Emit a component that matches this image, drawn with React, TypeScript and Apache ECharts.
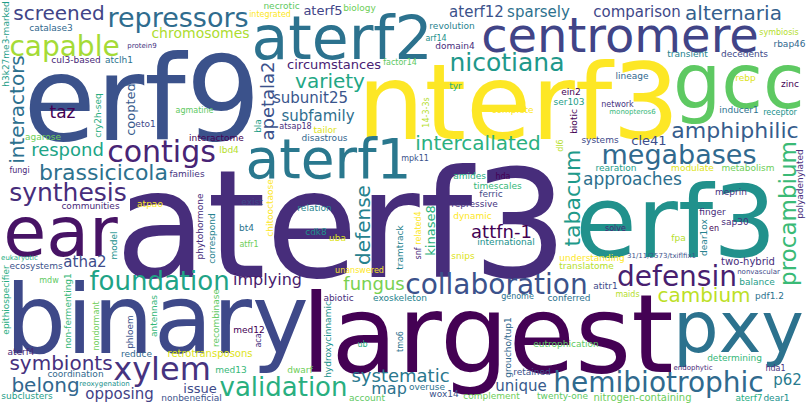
import * as echarts from "echarts";
import { useEffect, useRef } from "react";

const W = 808;
const H = 404;

const words = [
  "aterf3", "erf9", "largest", "nterf3", "binary", "erf3", "gcc", "pxy", "ear", "aterf2",
  "aterf1", "centromere", "xylem", "contigs", "capable", "defensin", "hemibiotrophic", "collaboration",
  "repressors", "megabases", "validation", "foundation", "brassicicola", "nicotiana", "synthesis",
  "amphiphilic", "procambium", "tabacum", "intercallated", "interactors", "variety", "belong", "apetala2",
  "symbionts", "alternaria", "cambium", "screened", "defense", "attfn-1", "fungus", "systematic", "respond",
  "approaches", "taz", "implying", "map", "comparison", "sparsely", "subunit25", "subfamily", "aterf12",
  "unique", "opposing", "atha2", "p62", "chromosomes", "nitrogen-containing", "kinase8", "issue",
  "circumstances", "coopted", "aterf5", "cle41", "dynamic", "two-hybrid", "tmo6", "arf14", "mdw", "wox14",
  "tailor", "epithiospecifier", "network", "en", "aterf4", "decedents", "groucho/tup1", "dear1ox",
  "subclusters", "timescales", "atfr1", "dl6", "understanding", "phytohormone", "genome", "receptor",
  "eutrophication", "phloem", "retrotransposons", "aterf7", "aca", "hda", "communities", "eto1", "catalase3",
  "tramtrack", "bla", "determining", "complement", "symbiosis", "atpao", "abiotic", "atclh1",
  "hydroxycinnamic", "agmatine", "ecosystems", "snips", "cry2h-seq", "families", "interactome", "snf",
  "systems", "disastrous", "correspond", "coumaroyltransferase", "med13", "metabolism", "maids",
  "chitooctaose", "polyadenylated", "pdf1.2", "international", "necrotic", "31/11/2573/txiflfix1", "uba",
  "ub", "hda1", "zinc", "solve", "ferric", "rbap46", "revolution", "balance", "non-fermenting1", "agarose",
  "translatome", "complete", "domain4", "inducer1", "dear1", "twenty-one", "nonbeneficial", "rebp", "tyr",
  "meprin", "biotic", "fungi", "exist", "lineage", "exoskeleton", "rearation", "monopteros6", "dwarf",
  "lbd4", "unanswered", "sap30", "bt4", "cdk8", "factor14", "mpk11", "modulate", "amides", "repressive",
  "ein2", "endophytic", "atitr1", "coordination", "transient", "ser103", "sesquiterpenoid", "biology",
  "fpa", "integrated", "finger", "conferred", "reoxygenation", "account", "retained", "math-btb/poz",
  "eukaryotic", "protein9", "med12", "cul3-based", "nonvascular", "reduce", "relation", "h3k27me3-marked",
  "antennas", "nondormant", "14-3-3s", "related4", "atsap18", "overuse", "model", "recombinase",
];

const weights = [
  150, 118, 108, 106, 100, 100, 92, 88, 70, 64,
  55, 48, 32, 30, 28, 28, 28, 28,
  27, 27, 26, 26, 26, 25, 25,
  24, 23, 22, 22, 20, 20, 20, 20,
  20, 20, 20, 20, 20, 18, 18, 18, 18,
  17, 17, 16, 16, 15, 15, 15, 15, 15,
  15, 15, 15, 15, 14, 14, 13, 13,
  13, 13, 13, 13, 9, 10, 8, 8, 8, 9,
  9, 9, 8, 8, 9, 9, 9, 9,
  9, 9, 8, 8, 9, 9, 8, 8,
  9, 9, 10, 9, 8, 8, 9, 9, 9,
  9, 9, 9, 9, 8, 9, 9, 9,
  9, 8, 9, 9, 9, 9, 9, 8,
  9, 9, 9, 9, 9, 9, 8,
  9, 9, 9, 9, 9, 9, 9, 8,
  8, 9, 8, 9, 9, 9, 9, 9, 9, 9,
  9, 9, 9, 9, 9, 9, 9, 9, 9,
  9, 8, 9, 9, 9, 9, 9, 9, 9,
  8, 9, 9, 9, 8, 8, 9, 9, 9, 9,
  9, 9, 9, 9, 9, 9, 9, 9,
  8, 9, 9, 9, 9, 9, 9, 9,
  9, 9, 9, 9, 9, 9, 9, 9,
  8, 8, 8, 8, 9, 9, 9, 8,
];

// style: colours of the leading words, then a viridis cycle for the rest
const leadColors = [
  "#472d7b", "#3b528b", "#440154", "#fde725", "#3e4989", "#21918c", "#5ec962", "#2c728e", "#471365", "#2c728e",
  "#2a788e", "#414487", "#46337f", "#482475", "#a5db36", "#481f70", "#306a8e", "#3b528b",
  "#2f6c8e", "#30698e", "#29af7f", "#20a386", "#2c718e", "#1f988b", "#472d7b",
  "#365d8d", "#3aba76", "#1f9a8a", "#2ab07f", "#2d708e", "#22a785", "#31678e", "#3b518b",
  "#46307e", "#34608d", "#bddf26", "#414487", "#26818e", "#440154", "#7ad151", "#2a788e", "#20a486",
  "#2d708e", "#440154", "#481b6d", "#2c738e", "#3f4889", "#2d718e", "#39558c", "#2e6e8e", "#3b528b",
  "#375b8d", "#424186", "#3e4c8a", "#297b8e", "#addc30", "#6ccd5a", "#2db27d", "#3e4a89",
  "#482173", "#375a8c", "#414487", "#3d4e8a",
];
const viridis = [
  "#440154", "#482878", "#3e4989", "#31688e", "#26828e", "#1f9e89", "#35b779", "#6ece58", "#b5de2b", "#fde725",
  "#472d7b", "#2c728e", "#21918c", "#5ec962", "#3b528b", "#dde318", "#27ad81", "#46337f",
];
const verticalWords = new Set([
  "procambium", "tabacum", "interactors", "apetala2", "defense", "kinase8", "coopted", "epithiospecifier",
  "h3k27me3-marked", "14-3-3s", "related4", "nondormant", "antennas", "hydroxycinnamic", "chitooctaose",
  "polyadenylated", "non-fermenting1", "tramtrack", "bla", "correspond", "snf", "dl6", "aca", "cry2h-seq",
  "groucho/tup1", "dear1ox", "tmo6", "phytohormone", "phloem", "recombinase", "model", "biotic",
]);
const FONT = '"DejaVu Sans", sans-serif';

function mulberry32(a: number) {
  return function () {
    a |= 0;
    a = (a + 0x6d2b79f5) | 0;
    let t = Math.imul(a ^ (a >>> 15), 1 | a);
    t = (t + Math.imul(t ^ (t >>> 7), 61 | t)) ^ t;
    return ((t ^ (t >>> 14)) >>> 0) / 4294967296;
  };
}

function layout() {
  const rng = mulberry32(42);
  const cv = document.createElement("canvas");
  cv.width = W;
  cv.height = H;
  const ctx = cv.getContext("2d")!;
  ctx.textAlign = "center";
  ctx.textBaseline = "middle";
  const integral = new Int32Array((W + 1) * (H + 1));
  const rebuild = () => {
    const d = ctx.getImageData(0, 0, W, H).data;
    for (let y = 0; y < H; y++) {
      let row = 0;
      for (let x = 0; x < W; x++) {
        row += d[(y * W + x) * 4 + 3] > 0 ? 1 : 0;
        integral[(y + 1) * (W + 1) + x + 1] = integral[y * (W + 1) + x + 1] + row;
      }
    }
  };
  const boxSum = (x: number, y: number, w: number, h: number) => {
    const a = integral[y * (W + 1) + x];
    const b = integral[y * (W + 1) + x + w];
    const c = integral[(y + h) * (W + 1) + x];
    const e = integral[(y + h) * (W + 1) + x + w];
    return e - b - c + a;
  };
  const placed: any[] = [];
  const m = 1;
  words.forEach((word, i) => {
    const vert = verticalWords.has(word);
    const color = i < leadColors.length ? leadColors[i] : viridis[i % viridis.length];
    for (let size = weights[i]; size >= 6; size -= 2) {
      ctx.font = `${size}px ${FONT}`;
      const mt = ctx.measureText(word);
      const asc = Math.ceil(mt.actualBoundingBoxAscent);
      const desc = Math.ceil(mt.actualBoundingBoxDescent);
      const tw = Math.ceil(mt.width);
      const bw = (vert ? asc + desc : tw) + 2 * m;
      const bh = (vert ? tw : asc + desc) + 2 * m;
      if (bw >= W || bh >= H) continue;
      const half = Math.ceil(size * 0.6);
      const cands: number[] = [];
      for (let y = 0; y + bh < H; y += 2)
        for (let x = 0; x + bw < W; x += 2) {
          if (boxSum(x, y, bw, bh) !== 0) continue;
          // keep the text's full em box inside the page
          const cx = vert ? x + m + asc : x + m + tw / 2;
          const cy = vert ? y + m + tw / 2 : y + m + asc;
          if (vert ? cx - half < 0 || cx + half > W : cy - half < 0 || cy + half > H) continue;
          cands.push(x, y);
        }
      if (!cands.length) continue;
      const k = Math.floor(rng() * (cands.length / 2)) * 2;
      const x = cands[k] + m;
      const y = cands[k + 1] + m;
      const cx = vert ? x + asc : x + tw / 2;
      const cy = vert ? y + tw / 2 : y + asc;
      ctx.save();
      ctx.translate(cx, cy);
      if (vert) ctx.rotate(-Math.PI / 2);
      ctx.fillStyle = "#000";
      ctx.fillText(word, 0, 0);
      ctx.restore();
      rebuild();
      placed.push({
        type: "text",
        x: cx,
        y: cy,
        rotation: vert ? Math.PI / 2 : 0,
        silent: true,
        style: {
          text: word,
          fontSize: size,
          fontFamily: FONT,
          fill: color,
          align: "center",
          verticalAlign: "middle",
        },
      });
      break;
    }
  });
  return placed;
}

export default function App() {
  const ref = useRef<HTMLDivElement>(null);
  useEffect(() => {
    document.body.style.margin = "0";
    const chart = echarts.init(ref.current, null, { renderer: "svg" });
    chart.setOption({
      animation: false,
      backgroundColor: "#ffffff",
      graphic: { elements: layout() },
    });
    return () => {
      chart.dispose();
    };
  }, []);
  return <div ref={ref} style={{ width: W, height: H }} />;
}
